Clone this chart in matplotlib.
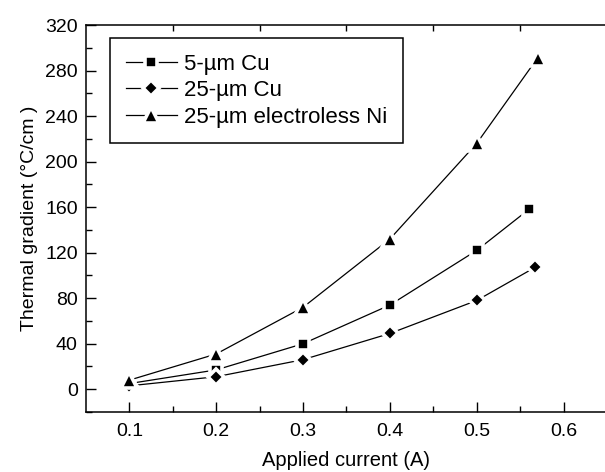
import numpy as np
import matplotlib
matplotlib.use("Agg")
import matplotlib.pyplot as plt
from matplotlib.ticker import MultipleLocator, FixedLocator

# ----- data -----
current_cu5 = [0.1, 0.2, 0.3, 0.4, 0.5, 0.56]
grad_cu5 = [5, 17, 40, 74, 122, 158]

current_cu25 = [0.1, 0.2, 0.3, 0.4, 0.5, 0.567]
grad_cu25 = [3, 11, 26, 49, 78, 107]

current_ni = [0.1, 0.2, 0.3, 0.4, 0.5, 0.57]
grad_ni = [8, 31, 72, 132, 216, 291]

labels = ["5-\u00b5m Cu", "25-\u00b5m Cu", "25-\u00b5m electroless Ni"]

plt.rcParams['font.family'] = ['Liberation Sans', 'DejaVu Sans']
plt.rcParams['font.size'] = 14

fig = plt.figure(figsize=(6.05, 4.72), dpi=100)
ax = fig.add_axes([86 / 605, 60 / 472, 521 / 605, 387 / 472])

# marker with white edge -> gap in the line around each point (Origin look)
style = dict(color='black', lw=0.9, markeredgecolor='white', markeredgewidth=2.6)
ax.plot(current_cu5, grad_cu5, marker='s', ms=8.3, label=labels[0], **style)
ax.plot(current_cu25, grad_cu25, marker='D', ms=8.6, label=labels[1], **style)
ax.plot(current_ni, grad_ni, marker='^', ms=11.5, label=labels[2], **style)

ax.set_xlim(0.05, 0.65)
ax.set_ylim(-20, 320)
ax.xaxis.set_major_locator(FixedLocator([0.1, 0.2, 0.3, 0.4, 0.5, 0.6]))
ax.xaxis.set_minor_locator(FixedLocator([0.15, 0.25, 0.35, 0.45, 0.55]))
ax.yaxis.set_major_locator(MultipleLocator(40))
ax.yaxis.set_minor_locator(MultipleLocator(20))
ax.set_yticks(np.arange(0, 321, 40))
ax.set_xticklabels(["0.1", "0.2", "0.3", "0.4", "0.5", "0.6"])

ax.tick_params(which='both', direction='in', width=1, labelsize=14)
ax.tick_params(which='major', length=7)
ax.tick_params(axis='x', which='major', pad=8)
ax.tick_params(axis='y', which='major', pad=6)
ax.tick_params(which='minor', length=4)
ax.tick_params(axis='x', which='minor', top=True)
for s in ax.spines.values():
    s.set_linewidth(1.1)

ax.set_xlabel("Applied current (A)", fontsize=14.5, labelpad=8)
ax.set_ylabel("Thermal gradient (\u00b0C/cm )", fontsize=14, labelpad=5)

leg = ax.legend(loc='upper left', bbox_to_anchor=(110 / 605, 1 - 38 / 472),
                bbox_transform=fig.transFigure, borderaxespad=0,
                fancybox=False, edgecolor='black', framealpha=1,
                handlelength=2.3, handletextpad=0.35, labelspacing=0.25,
                borderpad=0.7, fontsize=16)
leg.get_frame().set_linewidth(1.1)

fig.savefig("out.png", dpi=100)
